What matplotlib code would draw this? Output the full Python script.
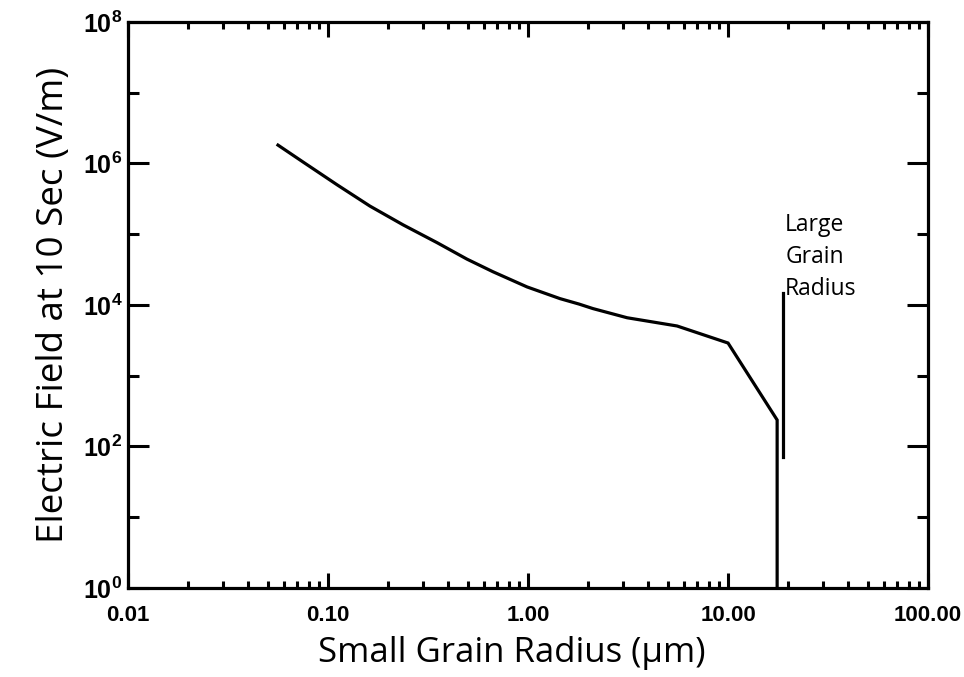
import matplotlib
matplotlib.use("Agg")
import matplotlib.pyplot as plt
from matplotlib.ticker import LogLocator, FixedLocator, NullFormatter

# small grain radius (um) vs electric field at 10 s (V/m)
radius = [0.0562, 0.075, 0.111, 0.162, 0.237, 0.351, 0.495, 0.668, 0.989,
          1.445, 1.8, 2.11, 3.13, 5.56, 10.0, 17.6, 17.6]
efield = [1.82e6, 1.05e6, 5.0e5, 2.5e5, 1.36e5, 7.6e4, 4.45e4, 2.95e4,
          1.80e4, 1.23e4, 1.03e4, 8.9e3, 6.6e3, 5.05e3, 2.90e3, 237, 0.5]

# marker for the large grain radius
large_x = [18.8, 18.8]
large_y = [1.5e4, 70]

xticks = [0.01, 0.1, 1, 10, 100]
xlabels = ["0.01", "0.10", "1.00", "10.00", "100.00"]
yticks = [1, 1e2, 1e4, 1e6, 1e8]
ylabels = [r"$\mathbf{10^{0}}$", r"$\mathbf{10^{2}}$", r"$\mathbf{10^{4}}$",
           r"$\mathbf{10^{6}}$", r"$\mathbf{10^{8}}$"]

plt.rcParams["mathtext.fontset"] = "custom"
plt.rcParams["mathtext.bf"] = "Liberation Sans:bold"
plt.rcParams["mathtext.rm"] = "Liberation Sans"

fig = plt.figure(figsize=(9.64, 6.77), dpi=100)
ax = fig.add_axes([0.1328, 0.1315, 0.8299, 0.836])

ax.plot(radius, efield, color="black", lw=2.3, solid_joinstyle="miter")
ax.plot(large_x, large_y, color="black", lw=2.3)

ax.set_xscale("log")
ax.set_yscale("log")
ax.set_xlim(0.01, 100)
ax.set_ylim(1, 1e8)

ax.xaxis.set_major_locator(FixedLocator(xticks))
ax.set_xticklabels(xlabels, fontfamily="Liberation Sans", fontweight="bold", fontsize=16)
ax.xaxis.set_minor_locator(LogLocator(base=10, subs=range(2, 10)))
ax.xaxis.set_minor_formatter(NullFormatter())

ax.yaxis.set_major_locator(FixedLocator(yticks))
ax.set_yticklabels(ylabels, fontsize=18)
ax.yaxis.set_minor_locator(FixedLocator([10, 1e3, 1e5, 1e7]))
ax.yaxis.set_minor_formatter(NullFormatter())

ax.tick_params(which="both", direction="in", top=True, right=True, width=2.2, color="black")
ax.tick_params(axis="x", which="major", length=11, pad=12)
ax.tick_params(axis="x", which="minor", length=5)
ax.tick_params(axis="y", which="major", length=15, pad=4)
ax.tick_params(axis="y", which="minor", length=8)

for s in ax.spines.values():
    s.set_linewidth(2.3)

ax.set_xlabel("Small Grain Radius (\u03bcm)", fontfamily="Open Sans", fontsize=25)
ax.xaxis.set_label_coords(0.48, -0.085)
ax.set_ylabel("Electric Field at 10 Sec (V/m)", fontfamily="Open Sans", fontsize=26.5, labelpad=8)

ax.text(19.3, 2.0e5, "Large\nGrain\nRadius", fontfamily="Open Sans", fontsize=16.5,
        va="top", ha="left", linespacing=1.45)

fig.savefig("out.png", dpi=100)
